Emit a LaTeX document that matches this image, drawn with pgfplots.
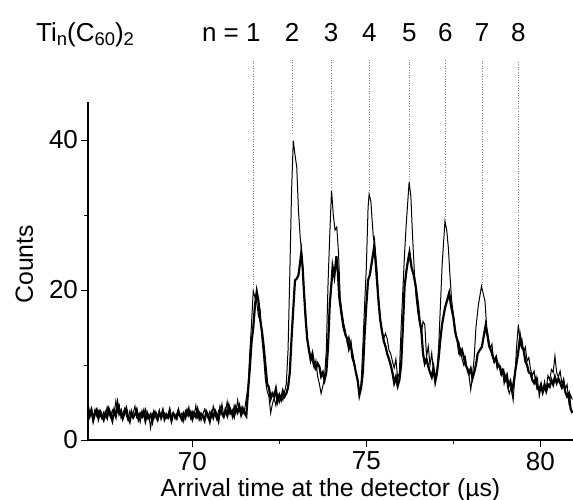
\documentclass[border=0pt]{standalone}
\usepackage{fontspec}
\setmainfont{Liberation Sans}
\usepackage{pgfplots}
\pgfplotsset{compat=1.18}
\newcommand{\sub}[1]{\raisebox{-1.7pt}{\fontsize{9.2}{10}\selectfont #1}}

% thin trace (upper peaks)
\pgfplotstableread{
x y
67.00 5.0
67.05 3.6
67.10 4.3
67.15 3.0
67.20 4.1
67.25 3.2
67.30 3.9
67.35 3.3
67.40 2.8
67.45 3.7
67.50 3.1
67.55 4.4
67.60 3.5
67.65 3.0
67.70 4.0
67.75 3.4
67.80 5.2
67.85 3.8
67.90 4.6
67.95 2.9
68.00 3.5
68.05 4.2
68.10 3.3
68.15 2.6
68.20 3.8
68.25 3.1
68.30 3.6
68.35 4.5
68.40 3.0
68.45 3.4
68.50 2.4
68.55 3.9
68.60 3.2
68.65 4.1
68.70 2.8
68.75 3.3
68.80 1.6
68.85 3.5
68.90 2.9
68.95 3.8
69.00 3.1
69.05 4.0
69.10 2.7
69.15 3.3
69.20 3.6
69.25 2.9
69.30 3.4
69.35 4.3
69.40 3.0
69.45 3.7
69.50 2.8
69.55 3.5
69.60 4.2
69.65 3.1
69.70 3.6
69.75 2.5
69.80 3.9
69.85 3.3
69.90 4.4
69.95 2.9
70.00 3.8
70.05 3.2
70.10 4.6
70.15 3.0
70.20 3.7
70.25 2.6
70.30 3.4
70.35 4.1
70.40 3.3
70.45 2.9
70.50 3.8
70.55 3.1
70.60 4.5
70.65 3.4
70.70 2.7
70.75 3.9
70.80 3.5
70.85 4.8
70.90 3.2
70.95 3.7
71.00 5.1
71.05 3.4
71.10 4.2
71.15 3.0
71.20 4.6
71.25 3.6
71.30 5.3
71.35 3.9
71.40 4.4
71.45 3.5
71.50 4.0
71.55 5.6
71.60 7.0
71.65 11.6
71.70 15.5
71.75 19.9
71.80 19.0
71.85 18.3
71.90 16.5
71.95 17.2
72.00 13.5
72.05 11.0
72.10 8.0
72.15 6.5
72.20 5.8
72.25 3.6
72.30 4.8
72.35 5.6
72.40 4.6
72.45 6.0
72.50 5.0
72.55 5.8
72.60 5.3
72.65 6.4
72.70 7.5
72.75 12.0
72.80 22.0
72.85 33.0
72.90 39.9
72.95 38.0
73.00 36.4
73.05 30.5
73.10 27.0
73.15 24.5
73.20 20.0
73.25 17.5
73.30 13.5
73.35 12.0
73.40 11.2
73.45 10.5
73.50 9.6
73.55 10.6
73.60 8.5
73.65 7.5
73.70 6.2
73.75 7.2
73.80 8.4
73.85 12.0
73.90 21.0
73.95 27.5
74.00 33.3
74.05 30.0
74.10 28.0
74.15 28.4
74.20 25.0
74.25 19.0
74.30 17.0
74.35 15.5
74.40 14.5
74.45 13.0
74.50 13.8
74.55 12.4
74.60 11.8
74.65 10.5
74.70 9.0
74.75 7.8
74.80 6.2
74.85 7.5
74.90 12.5
74.95 18.0
75.00 23.0
75.05 31.0
75.08 32.8
75.13 31.8
75.20 27.1
75.25 25.5
75.30 23.0
75.35 19.0
75.40 16.0
75.45 14.5
75.50 13.5
75.55 14.2
75.60 13.5
75.65 12.0
75.70 11.5
75.75 10.5
75.80 9.6
75.85 10.8
75.90 8.2
75.95 9.0
76.00 15.0
76.05 20.0
76.10 25.0
76.15 29.0
76.23 34.4
76.28 32.5
76.33 27.0
76.38 22.5
76.43 19.0
76.48 17.0
76.53 15.6
76.58 14.2
76.63 15.8
76.68 15.4
76.73 11.1
76.78 12.5
76.83 10.0
76.88 11.6
76.93 9.0
76.98 8.0
77.03 8.6
77.08 12.5
77.13 18.0
77.18 23.5
77.26 29.2
77.31 28.0
77.36 25.5
77.40 22.2
77.45 18.7
77.50 16.8
77.55 15.1
77.60 13.5
77.65 11.6
77.70 12.2
77.75 10.8
77.80 10.0
77.85 11.0
77.90 9.2
77.95 8.6
78.00 6.7
78.05 8.5
78.10 11.0
78.15 15.0
78.22 18.0
78.31 20.5
78.36 19.5
78.41 18.5
78.46 15.0
78.51 13.5
78.56 12.2
78.61 12.8
78.66 10.5
78.71 11.0
78.76 9.5
78.81 10.2
78.86 8.8
78.91 9.4
78.96 7.5
79.01 8.6
79.06 7.0
79.11 6.2
79.16 7.0
79.22 5.3
79.27 8.5
79.32 12.5
79.37 15.4
79.42 13.0
79.47 13.5
79.52 11.8
79.57 12.4
79.62 10.5
79.67 11.0
79.72 9.4
79.77 8.6
79.82 9.2
79.87 7.6
79.92 8.2
79.97 5.8
80.02 7.0
80.07 6.2
80.12 7.8
80.17 6.8
80.22 8.6
80.27 8.0
80.32 9.4
80.37 9.0
80.42 11.2
80.47 9.0
80.52 8.4
80.57 9.2
80.62 7.5
80.67 8.2
80.72 6.8
80.77 7.4
80.82 5.0
80.87 6.0
80.92 5.4
}\thintrace

% thick trace (lower peaks)
\pgfplotstableread{
x y
67.00 4.2
67.05 3.2
67.10 3.9
67.15 2.6
67.20 3.5
67.25 4.0
67.30 2.9
67.35 3.8
67.40 3.3
67.45 2.7
67.50 3.6
67.55 3.0
67.60 4.1
67.65 3.4
67.70 2.6
67.75 3.9
67.80 3.2
67.85 4.8
67.90 3.5
67.95 3.9
68.00 2.9
68.05 3.6
68.10 4.2
68.15 3.1
68.20 2.5
68.25 3.7
68.30 3.0
68.35 3.4
68.40 4.0
68.45 2.8
68.50 3.5
68.55 3.1
68.60 3.8
68.65 2.6
68.70 3.6
68.75 3.0
68.80 3.4
68.85 2.5
68.90 3.7
68.95 3.2
69.00 2.7
69.05 3.6
69.10 3.1
69.15 3.9
69.20 2.8
69.25 3.4
69.30 3.0
69.35 3.7
69.40 2.6
69.45 3.5
69.50 3.3
69.55 2.9
69.60 3.8
69.65 3.2
69.70 2.7
69.75 3.5
69.80 3.0
69.85 3.9
69.90 3.3
69.95 3.7
70.00 2.8
70.05 3.6
70.10 3.1
70.15 4.0
70.20 2.9
70.25 3.5
70.30 3.2
70.35 2.6
70.40 3.8
70.45 3.3
70.50 2.5
70.55 3.6
70.60 3.0
70.65 3.9
70.70 3.4
70.75 2.6
70.80 4.2
70.85 3.5
70.90 3.1
70.95 4.0
71.00 3.3
71.05 4.5
71.10 3.6
71.15 3.9
71.20 3.2
71.25 4.3
71.30 3.7
71.35 4.5
71.40 3.4
71.45 4.2
71.50 3.6
71.55 3.2
71.60 6.5
71.65 9.5
71.70 13.0
71.75 15.0
71.80 18.0
71.85 19.8
71.90 18.5
71.95 16.0
72.00 14.5
72.05 12.5
72.10 10.0
72.15 7.5
72.20 7.0
72.25 5.5
72.30 6.2
72.35 5.8
72.40 6.8
72.45 5.2
72.50 6.0
72.55 5.4
72.60 6.5
72.65 5.8
72.70 6.2
72.75 7.0
72.80 9.0
72.85 13.5
72.90 17.5
72.95 21.3
73.00 21.5
73.05 22.0
73.10 23.8
73.13 25.0
73.17 23.0
73.20 20.4
73.25 16.5
73.30 13.5
73.35 12.0
73.40 10.7
73.45 11.5
73.50 10.0
73.55 9.5
73.60 10.2
73.65 9.8
73.70 8.5
73.75 9.0
73.80 8.0
73.85 9.0
73.90 12.5
73.95 18.2
74.00 21.0
74.03 23.1
74.08 21.8
74.14 24.5
74.18 22.5
74.22 19.1
74.28 17.0
74.34 15.1
74.40 14.0
74.45 13.5
74.50 12.2
74.55 12.9
74.60 11.0
74.65 10.2
74.70 9.0
74.75 8.0
74.80 6.0
74.85 7.0
74.90 9.0
74.95 14.0
75.00 18.0
75.05 21.3
75.10 22.0
75.15 23.5
75.20 25.0
75.23 26.0
75.27 23.5
75.31 21.0
75.35 18.5
75.40 16.0
75.45 14.5
75.50 13.2
75.55 12.5
75.60 11.5
75.65 10.8
75.70 10.0
75.75 9.0
75.80 7.6
75.85 8.4
75.90 7.2
75.95 8.0
76.00 10.0
76.05 15.0
76.10 20.5
76.15 22.5
76.20 24.0
76.24 25.0
76.30 23.0
76.36 22.0
76.42 20.5
76.48 18.2
76.53 16.0
76.58 14.7
76.63 11.5
76.68 10.2
76.73 10.8
76.78 9.8
76.83 9.0
76.88 8.4
76.93 9.6
76.98 7.8
77.03 9.0
77.08 11.0
77.13 13.5
77.18 15.5
77.26 17.6
77.32 18.6
77.38 19.6
77.43 18.0
77.50 16.4
77.55 14.5
77.60 13.5
77.65 12.9
77.70 11.5
77.75 12.0
77.80 11.1
77.85 10.0
77.90 9.6
77.95 8.9
78.00 9.5
78.05 8.2
78.10 9.0
78.15 10.0
78.20 11.5
78.26 12.0
78.32 12.4
78.38 14.0
78.43 15.3
78.48 14.0
78.53 12.5
78.58 12.0
78.63 11.2
78.68 10.5
78.73 11.0
78.78 9.8
78.84 9.8
78.89 8.8
78.94 9.2
78.99 8.0
79.04 8.6
79.09 7.2
79.14 7.8
79.19 6.6
79.24 7.8
79.30 9.8
79.36 11.5
79.42 13.8
79.47 12.4
79.52 12.0
79.57 10.5
79.62 10.0
79.67 9.0
79.72 8.9
79.77 8.0
79.82 7.6
79.87 8.2
79.92 6.8
79.97 6.7
80.02 7.4
80.07 6.4
80.12 7.2
80.17 6.5
80.22 7.4
80.27 7.1
80.32 8.0
80.37 7.4
80.42 8.4
80.47 7.6
80.52 8.2
80.57 7.6
80.62 7.0
80.67 7.6
80.72 6.4
80.77 5.8
80.82 6.2
80.87 4.2
80.92 3.6
}\thicktrace

\begin{document}
\begin{tikzpicture}
\begin{axis}[
  scale only axis, width=242.5pt, height=169pt,
  xmin=67, xmax=80.94, ymin=0, ymax=45.07,
  axis x line*=bottom, axis y line*=left,
  axis line style={-, line width=0.6pt},
  tick pos=left, tick align=outside,
  xtick={70,75,80}, ytick={0,20,40},
  minor x tick num=1, minor y tick num=1,
  major tick length=3.5pt, minor tick length=2pt,
  tick style={line width=0.5pt, black},
  tick label style={font=\fontsize{13}{15}\selectfont},
  /pgf/number format/assume math mode=true,
  xticklabel style={yshift=1pt},
  yticklabel style={xshift=2pt},
  label style={font=\fontsize{12.4}{14}\selectfont},
  xlabel={Arrival time at the detector (µs)},
  xlabel style={at={(axis description cs:0.5,0)}, anchor=base, yshift=-28pt},
  ylabel={Counts},
  ylabel style={at={(axis description cs:0,0.52)}, anchor=base, yshift=27.5pt},
  clip=false,
]
\addplot[black, line width=0.5pt] table {\thintrace};
\addplot[black, line width=1.1pt] table {\thicktrace};
% guide lines at the peak positions
\addplot[gray, densely dotted, line width=0.3pt] coordinates {(71.75,20.7)(71.75,50.7)};
\addplot[gray, densely dotted, line width=0.3pt] coordinates {(72.87,40.9)(72.87,50.7)};
\addplot[gray, densely dotted, line width=0.3pt] coordinates {(73.99,33.3)(73.99,50.7)};
\addplot[gray, densely dotted, line width=0.3pt] coordinates {(75.09,33.3)(75.09,50.7)};
\addplot[gray, densely dotted, line width=0.3pt] coordinates {(76.24,34.4)(76.24,50.7)};
\addplot[gray, densely dotted, line width=0.3pt] coordinates {(77.27,29.4)(77.27,50.7)};
\addplot[gray, densely dotted, line width=0.3pt] coordinates {(78.33,20.7)(78.33,50.7)};
\addplot[gray, densely dotted, line width=0.3pt] coordinates {(79.37,16.4)(79.37,50.7)};
\node[anchor=base west, inner sep=0pt, font=\fontsize{13}{15}\selectfont] at (axis cs:65.5,53.1) {Ti\sub{n}(C\sub{60})\sub{2}};
\node[anchor=base east, inner sep=0pt, font=\fontsize{13}{15}\selectfont] at (axis cs:71.35,53.1) {n =};
\node[anchor=base, inner sep=0pt, font=\fontsize{13}{15}\selectfont] at (axis cs:71.75,53.1) {1};
\node[anchor=base, inner sep=0pt, font=\fontsize{13}{15}\selectfont] at (axis cs:72.87,53.1) {2};
\node[anchor=base, inner sep=0pt, font=\fontsize{13}{15}\selectfont] at (axis cs:73.99,53.1) {3};
\node[anchor=base, inner sep=0pt, font=\fontsize{13}{15}\selectfont] at (axis cs:75.09,53.1) {4};
\node[anchor=base, inner sep=0pt, font=\fontsize{13}{15}\selectfont] at (axis cs:76.24,53.1) {5};
\node[anchor=base, inner sep=0pt, font=\fontsize{13}{15}\selectfont] at (axis cs:77.27,53.1) {6};
\node[anchor=base, inner sep=0pt, font=\fontsize{13}{15}\selectfont] at (axis cs:78.33,53.1) {7};
\node[anchor=base, inner sep=0pt, font=\fontsize{13}{15}\selectfont] at (axis cs:79.37,53.1) {8};
\end{axis}
\pgfresetboundingbox
\path[use as bounding box] (-44pt,-29.5pt) rectangle (242.5pt,220pt);
\end{tikzpicture}
\end{document}
